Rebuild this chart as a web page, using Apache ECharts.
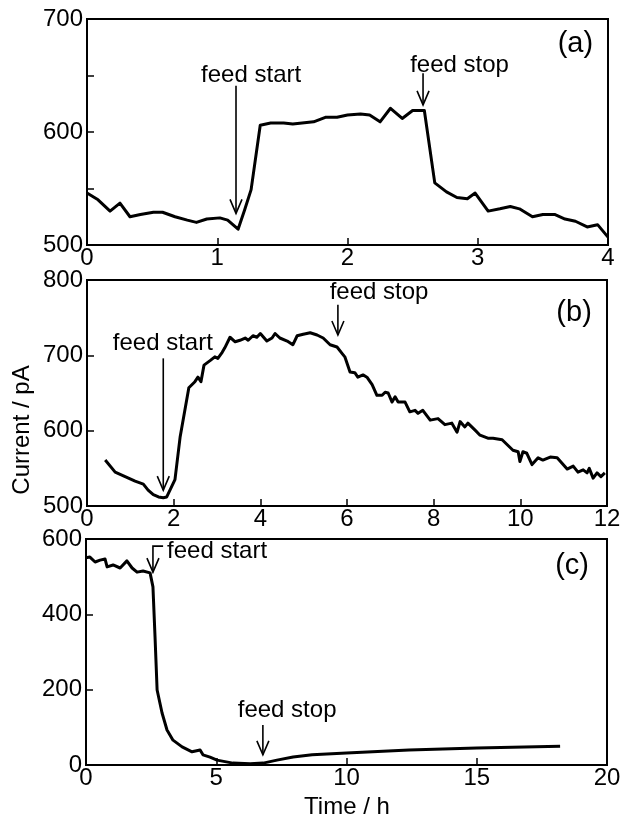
<!DOCTYPE html>
<html>
<head>
<meta charset="utf-8">
<script src="https://cdn.jsdelivr.net/npm/echarts@6/dist/echarts.min.js"></script>
<style>
  html, body { margin: 0; padding: 0; background: #fff; }
  #chart { width: 624px; height: 821px; }
</style>
</head>
<body>
<div id="chart"></div>
<script>
// panel (a)
var timeA = [0, 0.085, 0.177, 0.253, 0.33, 0.41, 0.51, 0.58, 0.676, 0.77, 0.84, 0.92, 1.02, 1.08, 1.16,
  1.21, 1.26, 1.33, 1.41, 1.51, 1.58, 1.74, 1.83, 1.92, 2.0, 2.10, 2.17, 2.25, 2.33, 2.42,
  2.50, 2.59, 2.67, 2.76, 2.84, 2.92, 2.98, 3.08, 3.17, 3.25, 3.32, 3.42, 3.50, 3.59, 3.67,
  3.75, 3.84, 3.92, 4.0];
var currentA = [546, 540, 530, 537, 525, 527, 529, 529, 525, 522, 520, 523, 524, 522, 514,
  531, 549, 606, 608, 608, 607, 609, 613, 613, 615, 616, 615, 609, 621, 612,
  619, 619, 555, 547, 542, 541, 546, 530, 532, 534, 532, 525, 527, 527, 523,
  521, 516, 518, 507];

// panel (b)
var timeB = [0.42, 0.65, 0.88, 1.11, 1.30, 1.41, 1.53, 1.65, 1.76, 1.84,
  2.03, 2.15, 2.35, 2.49, 2.56, 2.63, 2.70, 2.84, 2.95, 3.02,
  3.12, 3.18, 3.30, 3.42, 3.53, 3.65, 3.72, 3.83, 3.92, 4.0,
  4.15, 4.27, 4.34, 4.45, 4.62, 4.75, 4.85, 4.99, 5.15, 5.31,
  5.45, 5.61, 5.77, 5.88, 5.95, 6.07, 6.18, 6.25, 6.37, 6.46,
  6.58, 6.69, 6.81, 6.88, 6.95, 7.04, 7.11, 7.18, 7.34, 7.45,
  7.57, 7.64, 7.75, 7.92, 8.10, 8.26, 8.42, 8.54, 8.61, 8.72,
  8.79, 8.95, 9.07, 9.25, 9.37, 9.58, 9.83, 9.95, 9.99, 10.06,
  10.15, 10.27, 10.41, 10.52, 10.69, 10.85, 11.08, 11.22, 11.33, 11.45,
  11.54, 11.59, 11.68, 11.77, 11.86, 11.95];
var currentB = [561, 545, 539, 533, 529, 521, 515, 512, 511, 512,
  535, 592, 657, 665, 671, 665, 687, 693, 698, 696,
  704, 710, 724, 718, 720, 723, 720, 726, 724, 729,
  719, 723, 729, 723, 719, 714, 726, 728, 730, 727,
  723, 714, 711, 703, 698, 678, 677, 671, 674, 671,
  661, 647, 647, 651, 650, 638, 645, 638, 638, 625,
  627, 623, 627, 614, 616, 608, 610, 598, 612, 605,
  610, 601, 594, 590, 590, 588, 574, 572, 559, 572,
  570, 555, 564, 561, 565, 564, 549, 553, 545, 548,
  544, 550, 537, 544, 539, 544];

// panel (c)
var timeC = [0, 0.15, 0.35, 0.54, 0.73, 0.81, 1.04, 1.31, 1.57, 1.77, 1.96, 2.19, 2.46, 2.57, 2.65,
  2.73, 2.92, 3.11, 3.34, 3.69, 4.07, 4.38, 4.49, 4.76, 5.03, 5.64, 6.30, 6.8, 7.33, 7.95,
  8.68, 10.0, 12.4, 15.0, 18.2];
var currentC = [550, 552, 539, 544, 547, 526, 531, 523, 542, 523, 512, 515, 510, 473, 340,
  199, 138, 93, 66, 48, 35, 40, 27, 21, 13, 5, 3, 5, 13, 21,
  27, 32, 40, 45, 50];

// annotations, in data units of each panel
var arrows = [
  // grid, text, text x, text y, arrow x, arrow top y, arrow tip y
  [0, 'feed start', 1.26, 650, 1.144, 641, 528],
  [0, 'feed stop', 2.86, 659, 2.58, 652, 624],
  [1, 'feed start', 1.75, 716, 1.76, 696, 521],
  [1, 'feed stop', 6.74, 783, 5.79, 767, 727],
  [2, 'feed stop', 7.72, 146, 6.79, 106, 27]
];
var panelLabels = [[0, '(a)', 3.75, 678], [1, '(b)', 11.24, 756], [2, '(c)', 18.66, 528]];

var FONT = "'Liberation Sans', Arial, Helvetica, sans-serif";

function pairs(xs, ys) {
  return xs.map(function (x, i) { return [x, ys[i]]; });
}

var grids = [
  {left: 87, top: 19, width: 521, height: 226},
  {left: 87, top: 280, width: 520, height: 226},
  {left: 86, top: 539, width: 521, height: 226}
].map(function (g) {
  return Object.assign({show: true, borderColor: '#000', borderWidth: 2, backgroundColor: 'transparent'}, g);
});

function xAx(idx, max, step) {
  return {
    type: 'value', gridIndex: idx, min: 0, max: max, interval: step,
    axisLine: {show: true, onZero: false, lineStyle: {color: '#000', width: 2}},
    axisTick: {inside: true, length: 7, lineStyle: {color: '#000', width: 1.5}},
    axisLabel: {color: '#000', fontSize: 24, fontFamily: FONT, margin: 1},
    splitLine: {show: false}
  };
}
function yAx(idx, min, max, step, labelStep) {
  return {
    type: 'value', gridIndex: idx, min: min, max: max, interval: step,
    axisLine: {show: true, lineStyle: {color: '#000', width: 2}},
    axisTick: {inside: true, length: 7, lineStyle: {color: '#000', width: 1.5}},
    axisLabel: {color: '#000', fontSize: 24, fontFamily: FONT, margin: 4,
      formatter: function (v) { return v % labelStep === 0 ? String(v) : ''; }},
    splitLine: {show: false}
  };
}

function lineSeries(idx, data) {
  return {
    type: 'line', xAxisIndex: idx, yAxisIndex: idx, data: data,
    showSymbol: false, symbol: 'none', animation: false,
    lineStyle: {color: '#000', width: 3, join: 'round'}
  };
}

var chart = echarts.init(document.getElementById('chart'), null, {renderer: 'canvas'});
chart.setOption({
  animation: false,
  backgroundColor: '#fff',
  grid: grids,
  xAxis: [xAx(0, 4, 1), xAx(1, 12, 2), xAx(2, 20, 5)],
  yAxis: [yAx(0, 500, 700, 50, 100), yAx(1, 500, 800, 100, 100), yAx(2, 0, 600, 200, 200)],
  series: [
    lineSeries(0, pairs(timeA, currentA)),
    lineSeries(1, pairs(timeB, currentB)),
    lineSeries(2, pairs(timeC, currentC))
  ]
});

var elements = [];
function px(g, x, y) { return chart.convertToPixel({gridIndex: g}, [x, y]); }
function vHead(tip) {
  return {type: 'polyline', shape: {points: [[tip[0] - 6, tip[1] - 14], tip, [tip[0] + 6, tip[1] - 14]]},
    style: {stroke: '#000', lineWidth: 1.6, fill: null}, z: 10};
}
function label(p, text, align, size) {
  return {type: 'text', x: p[0], y: p[1], z: 10,
    style: {text: text, fill: '#000', font: size + 'px ' + FONT, align: align, verticalAlign: 'middle'}};
}

arrows.forEach(function (a) {
  var t = px(a[0], a[2], a[3]);
  var top = px(a[0], a[4], a[5]);
  var tip = px(a[0], a[4], a[6]);
  elements.push(label(t, a[1], 'center', 24));
  elements.push({type: 'line', shape: {x1: top[0], y1: top[1], x2: tip[0], y2: tip[1]},
    style: {stroke: '#000', lineWidth: 1.6}, z: 10});
  elements.push(vHead(tip));
});

// bracketed arrow for feed start in (c)
(function () {
  var corner = px(2, 2.96, 581);
  var bend = px(2, 2.57, 581);
  var tip = px(2, 2.57, 512);
  elements.push({type: 'polyline', shape: {points: [corner, bend, tip]},
    style: {stroke: '#000', lineWidth: 1.6, fill: null}, z: 10});
  elements.push(vHead(tip));
  elements.push(label(px(2, 3.11, 566), 'feed start', 'left', 24));
})();

panelLabels.forEach(function (p) {
  elements.push(label(px(p[0], p[2], p[3]), p[1], 'center', 29));
});

// axis titles
elements.push({type: 'text', x: 22, y: 430, rotation: Math.PI / 2, z: 10,
  style: {text: 'Current / pA', fill: '#000', font: '24px ' + FONT, align: 'center', verticalAlign: 'middle'}});
elements.push({type: 'text', x: 347, y: 807, z: 10,
  style: {text: 'Time / h', fill: '#000', font: '24px ' + FONT, align: 'center', verticalAlign: 'middle'}});

chart.setOption({graphic: {elements: elements}});
</script>
</body>
</html>
